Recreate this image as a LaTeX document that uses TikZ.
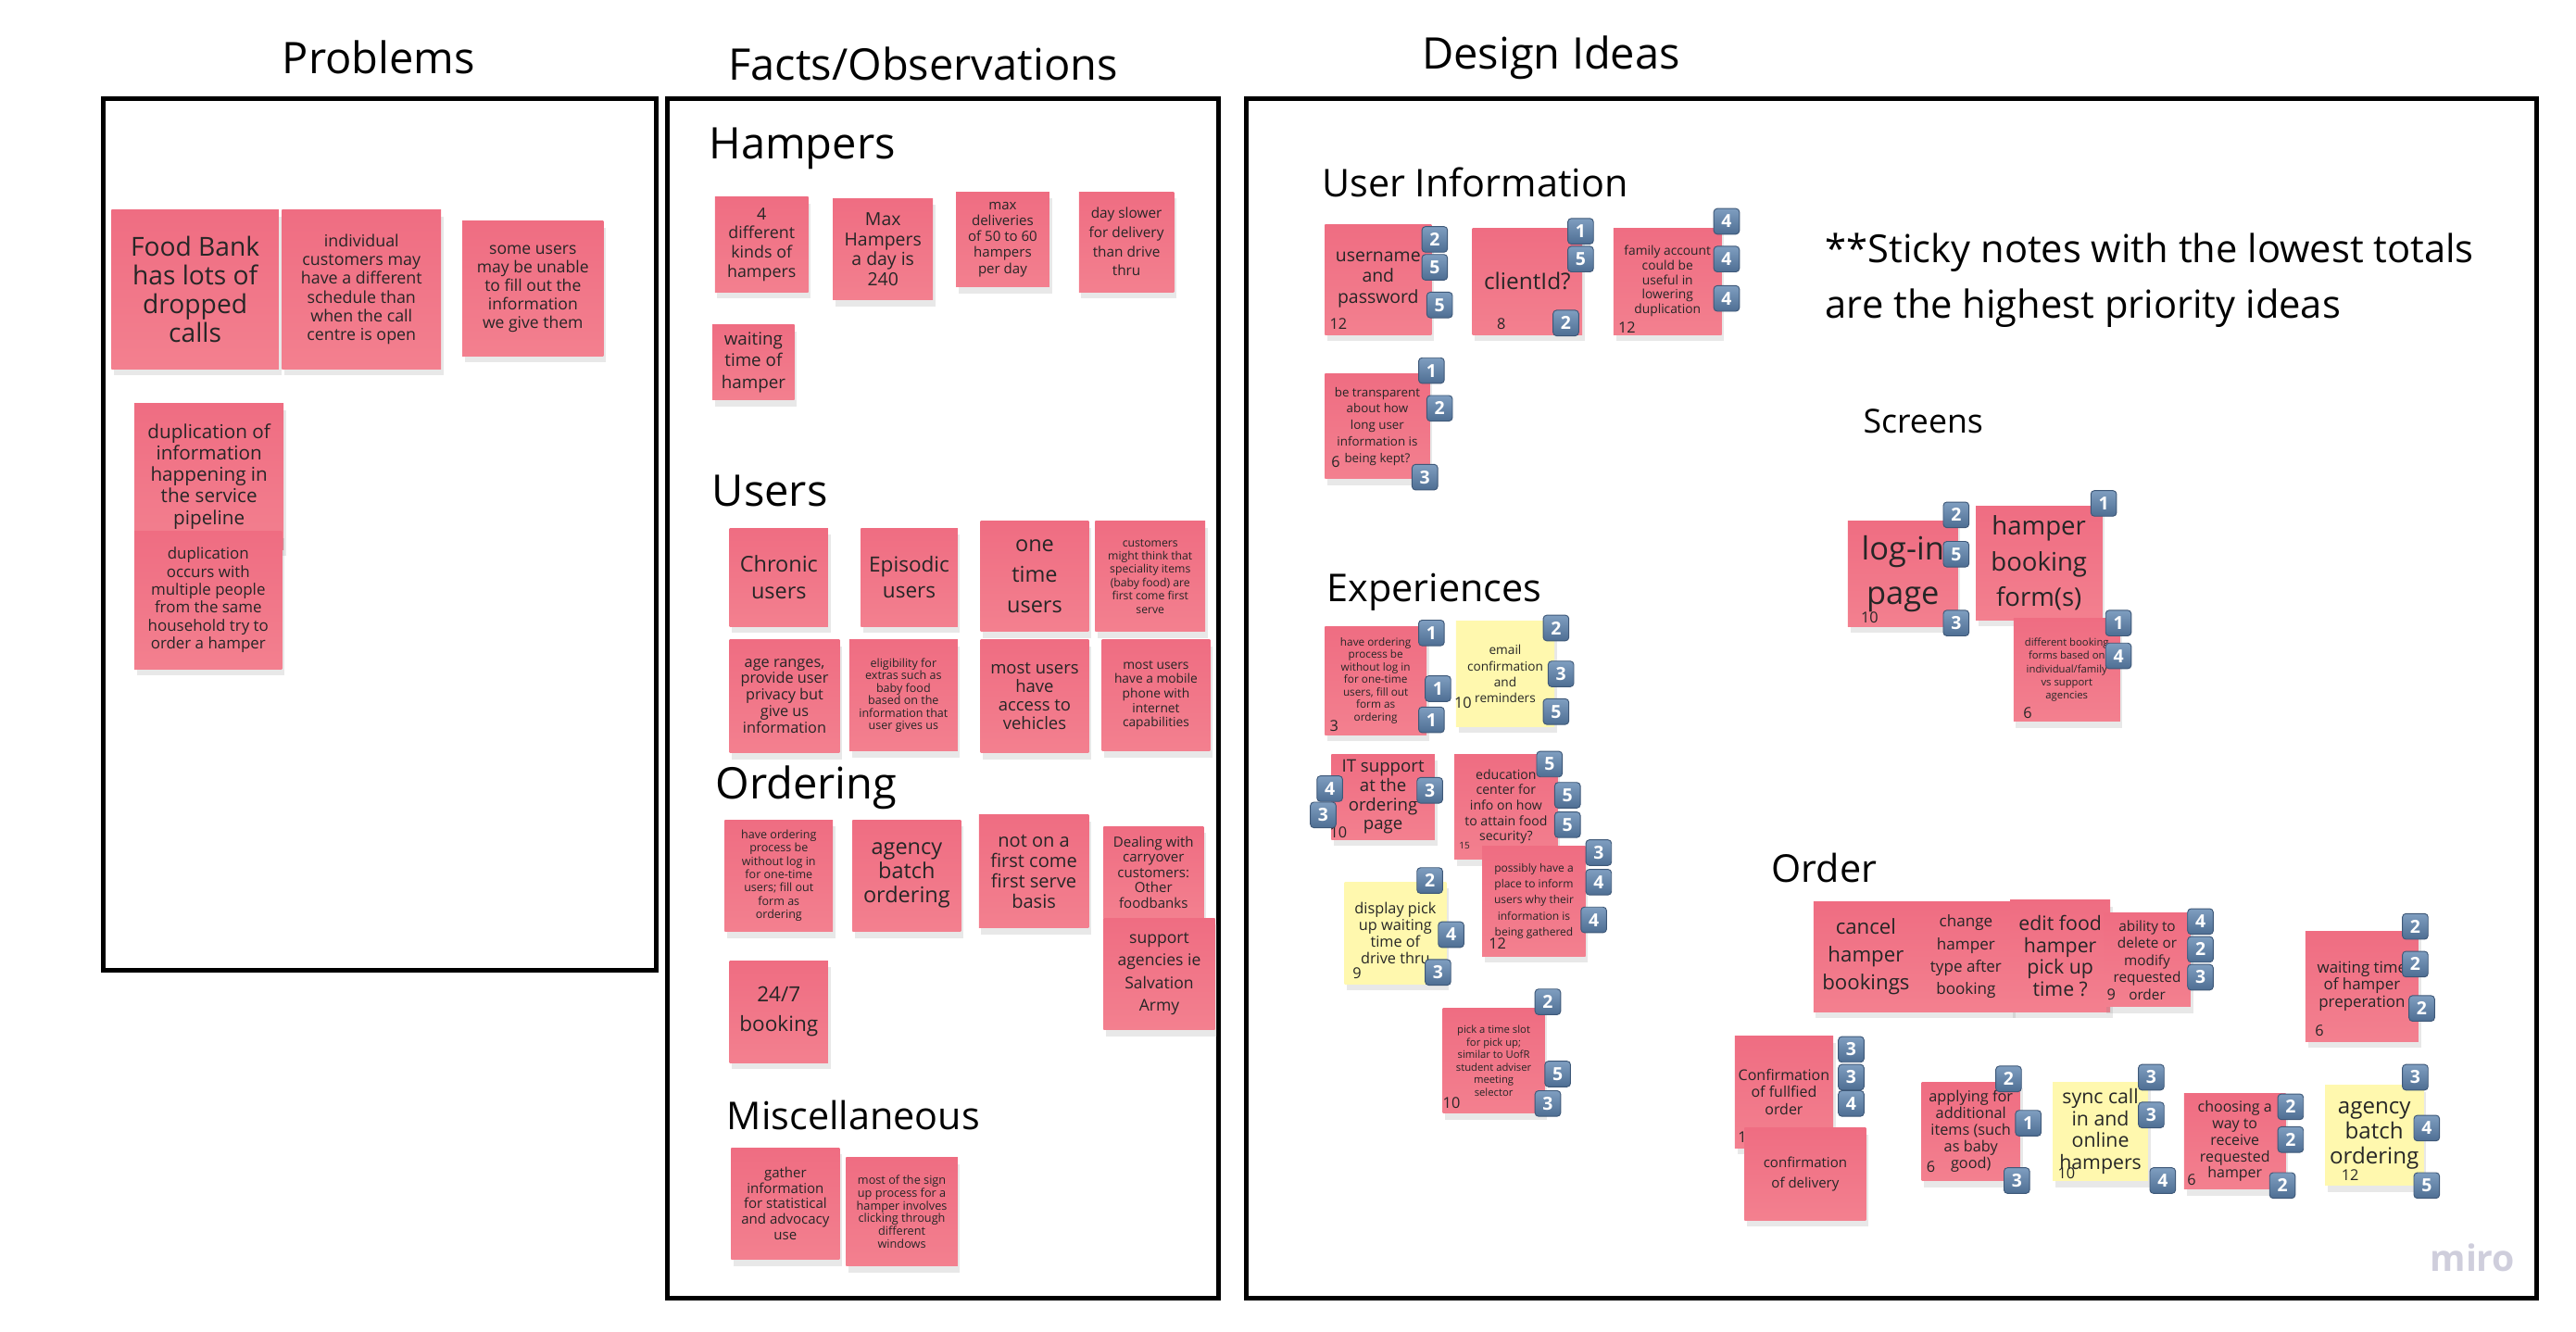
\documentclass[tikz,border=0pt]{standalone}
\usepackage{fontspec}
\setmainfont{Open Sans}
\usetikzlibrary{positioning,shadows}
\definecolor{notepink}{HTML}{F3808F}
\definecolor{notepinktop}{HTML}{EF6D82}
\definecolor{noteyellow}{HTML}{FFF8AE}
\definecolor{badgetop}{HTML}{7F9EC0}
\definecolor{badgebot}{HTML}{4E6E93}
\definecolor{badgeline}{HTML}{3E5878}
\definecolor{logogray}{HTML}{CFCEDC}
\begin{document}
\begin{tikzpicture}[x=0.1986mm, y=-0.1986mm,
    frame/.style={
        draw=black,
        line width=1.6pt},
    title/.style={
        font=\fontsize{15pt}{18pt}\selectfont,
        anchor=base,
        inner sep=0pt},
    heading/.style={
        font=\fontsize{15pt}{18pt}\selectfont,
        anchor=base west,
        inner sep=0pt},
    subheading/.style={
        heading,
        font=\fontsize{13.2pt}{16pt}\selectfont},
    note/.style={
        rectangle,
        top color=notepinktop, bottom color=notepink,
        align=center,
        inner sep=0.5pt,
        text=black!85,
        drop shadow={opacity=0.18, shadow xshift=0.3mm, shadow yshift=-0.8mm}},
    yellownote/.style={
        note,
        top color=noteyellow, bottom color=noteyellow},
    sz/.style 2 args={minimum width=#1*0.1986mm, minimum height=#2*0.1986mm},
    fs/.style 2 args={font=\fontsize{#1pt}{#2pt}\selectfont},
    badge/.style={
        rectangle,
        rounded corners=1.2pt,
        draw=badgeline, line width=0.3pt,
        top color=badgetop, bottom color=badgebot,
        minimum size=3.1mm,
        inner sep=0pt,
        text=white,
        font=\fontsize{6.2pt}{7pt}\selectfont\bfseries},
    count/.style={
        anchor=south west,
        inner sep=0pt,
        text=black!85,
        font=\fontsize{5.2pt}{6pt}\selectfont}
    ]

    \useasboundingbox (0,0) rectangle (31.2cm,-16.132cm);

    % panels
    \draw [frame] (63,60) rectangle (400,592);
    \draw [frame] (407,60) rectangle (743,792);
    \draw [frame] (760,60) rectangle (1547,792);

    \node (probtitle) [title] at (231,45) {Problems};
    \node (factstitle) [title] at (563,49) {Facts/Observations};
    \node (designtitle) [title] at (946,42) {Design Ideas};

    % Problems
    \node (dropcalls) [note, sz={102}{97}, fs={9}{9.8}] at (119,176.5) {Food Bank\\has lots of\\dropped\\calls};
    \node (schedule) [note, sz={97}{97}, fs={5.7}{6.5}] at (220.5,176.5) {individual\\customers may\\have a different\\schedule than\\when the call\\centre is open};
    \node (unable) [note, sz={86}{82}, fs={5.6}{6.4}] at (325,176) {some users\\may be unable\\to fill out the\\information\\we give them};
    \node (dupinfo) [note, sz={91}{89}, fs={6.6}{7.4}] at (127.5,290.5) {duplication of\\information\\happening in\\the service\\pipeline};
    \node (duphouse) [note, sz={90}{84}, fs={5.4}{6.2}] at (127,366) {duplication\\occurs with\\multiple people\\from the same\\household try to\\order a hamper};

    % Facts/Observations
    \node (hampers) [heading] at (432,97) {Hampers};
    \node (kinds) [note, sz={57}{58}, fs={5.7}{6.6}] at (464.5,149) {4\\different\\kinds of\\hampers};
    \node (maxhamp) [note, sz={61}{62}, fs={6.2}{6.9}] at (538.5,152) {Max\\Hampers\\a day is\\240};
    \node (maxdeliv) [note, sz={57}{58}, fs={4.8}{5.5}] at (611.5,146) {max\\deliveries\\of 50 to 60\\hampers\\per day};
    \node (slower) [note, sz={58}{61}, fs={4.9}{6.6}] at (687,147.5) {day slower\\for delivery\\than drive\\thru};
    \node (waithamp) [note, sz={50}{46}, fs={6}{7.4}] at (459.5,221) {waiting\\time of\\hamper};

    \node (users) [heading] at (434,309) {Users};
    \node (chronic) [note, sz={60}{60}, fs={7.5}{9.2}] at (475,352) {Chronic\\users};
    \node (episodic) [note, sz={59}{60}, fs={7.2}{9.2}] at (554.5,352) {Episodic\\users};
    \node (onetime) [note, sz={66}{67}, fs={7.5}{10.5}] at (631,351.5) {one\\time\\users};
    \node (special) [note, sz={67}{67}, fs={3.9}{4.6}] at (701.5,351.5) {customers\\might think that\\speciality items\\(baby food) are\\first come first\\serve};
    \node (ageranges) [note, sz={67}{69}, fs={5.2}{5.7}] at (478.5,424.5) {age ranges,\\provide user\\privacy but\\give us\\information};
    \node (eligible) [note, sz={66}{68}, fs={4}{4.3}] at (551,424) {eligibility for\\extras such as\\baby food\\based on the\\information that\\user gives us};
    \node (vehicles) [note, sz={66}{69}, fs={5.9}{6.4}] at (631,424.5) {most users\\have\\access to\\vehicles};
    \node (mobile) [note, sz={66}{68}, fs={4.4}{5}] at (705,424) {most users\\have a mobile\\phone with\\internet\\capabilities};

    \node (ordering) [heading] at (436,487) {Ordering};
    \node (nologin) [note, sz={66}{68}, fs={4}{4.6}] at (475,534) {have ordering\\process be\\without log in\\for one-time\\users; fill out\\form as\\ordering};
    \node (batch) [note, sz={66}{68}, fs={7.5}{8.3}] at (553,534) {agency\\batch\\ordering};
    \node (firstcome) [note, sz={67}{69}, fs={6.4}{7}] at (630.5,531.5) {not on a\\first come\\first serve\\basis};
    \node (carryover) [note, sz={61}{56}, fs={4.8}{5.3}] at (703.5,532) {Dealing with\\carryover\\customers:\\Other\\foodbanks};
    \node (salvation) [note, sz={68}{68}, fs={5.6}{7.8}] at (707,594) {support\\agencies ie\\Salvation\\Army};
    \node (allday) [note, sz={60}{62}, fs={7.2}{10}] at (475,617) {24/7\\booking};

    \node (misc) [subheading] at (443,689) {Miscellaneous};
    \node (gather) [note, sz={66}{68}, fs={4.8}{5.3}] at (479,734) {gather\\information\\for statistical\\and advocacy\\use};
    \node (signup) [note, sz={68}{66}, fs={4.05}{4.4}] at (550,739) {most of the sign\\up process for a\\hamper involves\\clicking through\\different\\windows};

    % Design Ideas
    \node (priority) [anchor=west, align=left, inner sep=0pt, font=\fontsize{13.3pt}{19.4pt}\selectfont] at (1113,171) {**Sticky notes with the lowest totals\\are the highest priority ideas};

    \node (userinfo) [subheading] at (806,120) {User Information};
    \node (uname) [note, sz={65}{67}, fs={6.2}{7.1}] at (840.5,170.5) {username\\and\\password};
    \node (uname-sum) [count] at ([shift={(3,-3)}]uname.south west) {12};
    \node (uname-v1) [badge] at (875,146) {2};
    \node (uname-v2) [badge] at (875,163) {5};
    \node (uname-v3) [badge] at (878,186) {5};
    \node (clientid) [note, sz={67}{65}, fs={7.8}{9}] at (931.5,171.5) {clientId?};
    \node (clientid-sum) [count] at ([shift={(15,-3)}]clientid.south west) {8};
    \node (clientid-v1) [badge] at (964,141) {1};
    \node (clientid-v2) [badge] at (964,158) {5};
    \node (clientid-v3) [badge] at (955,197) {2};
    \node (family) [note, sz={66}{65}, fs={4.4}{5}] at (1017,171.5) {family account\\could be\\useful in\\lowering\\duplication};
    \node (family-sum) [count] at ([shift={(3,-1)}]family.south west) {12};
    \node (family-v1) [badge] at (1053,135) {4};
    \node (family-v2) [badge] at (1053,158) {4};
    \node (family-v3) [badge] at (1053,182) {4};
    \node (transp) [note, sz={64}{64}, fs={4.26}{5.7}] at (840,260) {be transparent\\about how\\long user\\information is\\being kept?};
    \node (transp-sum) [count] at ([shift={(4,-7)}]transp.south west) {6};
    \node (transp-v1) [badge] at (873,226) {1};
    \node (transp-v2) [badge] at (878,249) {2};
    \node (transp-v3) [badge] at (869,291) {3};

    \node (screens) [heading, font=\fontsize{11.4pt}{14pt}\selectfont] at (1136,264) {Screens};
    \node (login) [note, sz={67}{64}, fs={11}{15.5}] at (1160.5,350) {log-in\\page};
    \node (login-sum) [count] at ([shift={(8,-2)}]login.south west) {10};
    \node (login-v1) [badge] at (1193,314) {2};
    \node (login-v2) [badge] at (1193,338) {5};
    \node (login-v3) [badge] at (1193,380) {3};
    \node (bookform) [note, sz={77}{69}, fs={8.8}{12.3}] at (1243.5,343.5) {hamper\\booking\\form(s)};
    \node (bookform-v1) [badge] at (1283,307) {1};
    \node (diffform) [note, sz={65}{63}, fs={3.6}{4.6}] at (1260.5,408.5) {different booking\\forms based on\\individual/family\\vs support\\agencies};
    \node (diffform-sum) [count] at ([shift={(6,-2)}]diffform.south west) {6};
    \node (diffform-v1) [badge] at (1292,380) {1};
    \node (diffform-v2) [badge] at (1292,400) {4};

    \node (experiences) [subheading] at (809,367) {Experiences};
    \node (exlogin) [note, sz={62}{66}, fs={3.76}{4.3}] at (839,415) {have ordering\\process be\\without log in\\for one-time\\users, fill out\\form as\\ordering};
    \node (exlogin-sum) [count] at ([shift={(3,-2)}]exlogin.south west) {3};
    \node (exlogin-v1) [badge] at (873,386) {1};
    \node (exlogin-v2) [badge] at (877,420) {1};
    \node (exlogin-v3) [badge] at (873,439) {1};
    \node (email) [yellownote, sz={60}{64}, fs={4.36}{5.5}] at (918,411) {email\\confirmation\\and\\reminders};
    \node (email-sum) [count] at ([shift={(-1,-11)}]email.south west) {10};
    \node (email-v1) [badge] at (949,383) {2};
    \node (email-v2) [badge] at (952,411) {3};
    \node (email-v3) [badge] at (949,434) {5};
    \node (itsupport) [note, sz={63}{52}, fs={5.95}{6.6}] at (843.5,486) {IT support\\at the\\ordering\\page};
    \node (itsupport-sum) [count] at ([shift={(-1,-1)}]itsupport.south west) {10};
    \node (itsupport-v1) [badge] at (872,482) {3};
    \node (itsupport-v2) [badge] at (811,481) {4};
    \node (itsupport-v3) [badge] at (807,497) {3};
    \node (educ) [note, sz={63}{64}, fs={4.5}{5.3}] at (918.5,492) {education\\center for\\info on how\\to attain food\\security?};
    \node (educ-sum) [count, font=\fontsize{3.2pt}{4pt}\selectfont] at ([shift={(3,-6)}]educ.south west) {15};
    \node (educ-v1) [badge] at (945,466) {5};
    \node (educ-v2) [badge] at (956,485) {5};
    \node (educ-v3) [badge] at (956,503) {5};
    \node (whyinfo) [note, sz={63}{67}, fs={3.84}{5.5}] at (935.5,549.5) {possibly have a\\place to inform\\users why their\\information is\\being gathered};
    \node (whyinfo-sum) [count] at ([shift={(4,-4)}]whyinfo.south west) {12};
    \node (whyinfo-v1) [badge] at (975,520) {3};
    \node (whyinfo-v2) [badge] at (975,538) {4};
    \node (whyinfo-v3) [badge] at (972,561) {4};
    \node (waitdrive) [yellownote, sz={62}{62}, fs={5.2}{5.8}] at (851,569) {display pick\\up waiting\\time of\\drive thru};
    \node (waitdrive-sum) [count] at ([shift={(5,-3)}]waitdrive.south west) {9};
    \node (waitdrive-v1) [badge] at (872,537) {2};
    \node (waitdrive-v2) [badge] at (885,570) {4};
    \node (waitdrive-v3) [badge] at (877,593) {3};
    \node (timeslot) [note, sz={62}{64}, fs={3.6}{4.3}] at (911,647) {pick a time slot\\for pick up;\\similar to UofR\\student adviser\\meeting\\selector};
    \node (timeslot-sum) [count] at ([shift={(0,-3)}]timeslot.south west) {10};
    \node (timeslot-v1) [badge] at (944,611) {2};
    \node (timeslot-v2) [badge] at (950,655) {5};
    \node (timeslot-v3) [badge] at (944,673) {3};

    \node (order) [subheading] at (1080,538) {Order};
    \node (cancel) [note, sz={64}{67}, fs={7.1}{9.5}] at (1138,583.5) {cancel\\hamper\\bookings};
    \node (change) [note, sz={58}{67}, fs={5.45}{7.8}] at (1199,583.5) {change\\hamper\\type after\\booking};
    \node (edit) [note, sz={61}{68}, fs={6.8}{7.6}] at (1256.5,583) {edit food\\hamper\\pick up\\time ?};
    \node (modify) [note, sz={53}{57}, fs={4.9}{5.9}] at (1309.5,585.5) {ability to\\delete or\\modify\\requested\\order};
    \node (modify-sum) [count] at ([shift={(2,-4)}]modify.south west) {9};
    \node (modify-v1) [badge] at (1342,562) {4};
    \node (modify-v2) [badge] at (1342,579) {2};
    \node (modify-v3) [badge] at (1342,596) {3};
    \node (waitprep) [note, sz={69}{67}, fs={5.4}{6}] at (1440.5,601.5) {waiting time\\of hamper\\preperation};
    \node (waitprep-sum) [count] at ([shift={(6,-3)}]waitprep.south west) {6};
    \node (waitprep-v1) [badge] at (1473,565) {2};
    \node (waitprep-v2) [badge] at (1473,588) {2};
    \node (waitprep-v3) [badge] at (1477,615) {2};
    \node (fulfil) [note, sz={60}{68}, fs={5.1}{6}] at (1088,666) {Confirmation\\of fullfied\\order};
    \node (fulfil-sum) [count] at ([shift={(2,-3)}]fulfil.south west) {10};
    \node (fulfil-v1) [badge] at (1129,640) {3};
    \node (fulfil-v2) [badge] at (1129,657) {3};
    \node (fulfil-v3) [badge] at (1129,673) {4};
    \node (delivery) [note, sz={74}{56}, fs={4.8}{6.8}] at (1101,716) {confirmation\\of delivery};
    \node (extras) [note, sz={60}{60}, fs={5.2}{5.7}] at (1202,690) {applying for\\additional\\items (such\\as baby\\good)};
    \node (extras-sum) [count] at ([shift={(3,-5)}]extras.south west) {6};
    \node (extras-v1) [badge] at (1225,658) {2};
    \node (extras-v2) [badge] at (1237,685) {1};
    \node (extras-v3) [badge] at (1230,720) {3};
    \node (sync) [yellownote, sz={58}{60}, fs={6.8}{7.6}] at (1281,690) {sync call\\in and\\online\\hampers};
    \node (sync-sum) [count] at ([shift={(3,-1)}]sync.south west) {10};
    \node (sync-v1) [badge] at (1312,657) {3};
    \node (sync-v2) [badge] at (1312,680) {3};
    \node (sync-v3) [badge] at (1319,720) {4};
    \node (receive) [note, sz={62}{58}, fs={5.1}{5.7}] at (1363,696) {choosing a\\way to\\receive\\requested\\hamper};
    \node (receive-sum) [count] at ([shift={(2,-2)}]receive.south west) {6};
    \node (receive-v1) [badge] at (1397,675) {2};
    \node (receive-v2) [badge] at (1397,695) {2};
    \node (receive-v3) [badge] at (1392,723) {2};
    \node (agency) [yellownote, sz={60}{61}, fs={7.7}{8.5}] at (1448,692.5) {agency\\batch\\ordering};
    \node (agency-sum) [count] at ([shift={(10,-3)}]agency.south west) {12};
    \node (agency-v1) [badge] at (1473,657) {3};
    \node (agency-v2) [badge] at (1480,688) {4};
    \node (agency-v3) [badge] at (1480,723) {5};

    \node (miro) [text=logogray, font=\fontsize{12.5pt}{14pt}\selectfont\bfseries] at (1508,767) {miro};

\end{tikzpicture}
\end{document}
